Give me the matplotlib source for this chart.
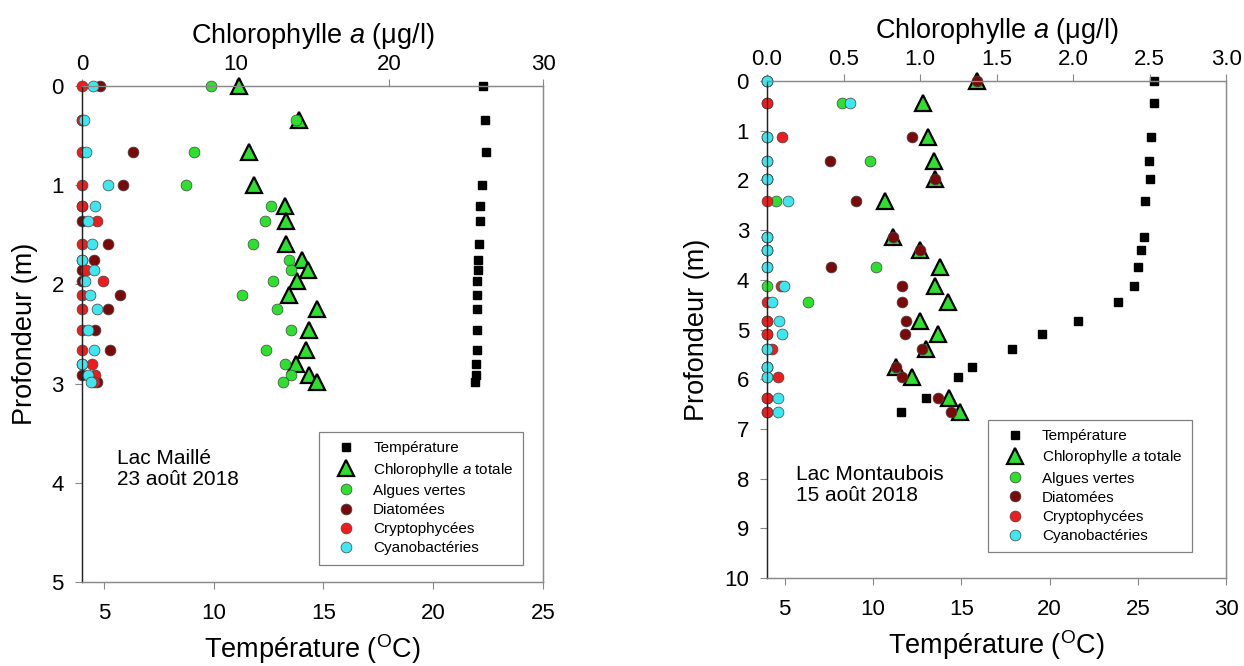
import matplotlib
matplotlib.use("Agg")
import matplotlib.pyplot as plt
from matplotlib.lines import Line2D

plt.rcParams['font.family'] = ['Liberation Sans', 'DejaVu Sans']
plt.rcParams['mathtext.fontset'] = 'custom'
plt.rcParams['mathtext.rm'] = 'Liberation Sans'
plt.rcParams['mathtext.it'] = 'Liberation Sans:italic'

# ---- Lac Maillé, 23 août 2018 ----
depth_m = [0.0, 0.34, 0.66, 1.0, 1.21, 1.36, 1.59, 1.75, 1.85, 1.97, 2.11, 2.25, 2.46, 2.66, 2.80, 2.91, 2.98]
temp_m = [22.25, 22.35, 22.4, 22.2, 22.15, 22.15, 22.1, 22.05, 22.05, 22.0, 22.0, 22.0, 22.0, 22.0, 21.95, 21.95, 21.9]
chl_tot_m = [10.2, 14.1, 10.9, 11.2, 13.2, 13.3, 13.3, 14.3, 14.7, 14.0, 13.5, 15.3, 14.8, 14.6, 13.9, 14.8, 15.3]
green_m = [8.4, 13.9, 7.3, 6.8, 12.3, 11.9, 11.1, 13.5, 13.6, 12.4, 10.4, 12.7, 13.6, 12.0, 13.2, 13.6, 13.1]
diatom_m = [1.2, 0.0, 3.3, 2.7, 0.0, 0.0, 1.7, 0.75, 0.0, 0.0, 2.5, 1.7, 0.85, 1.8, 0.0, 0.0, 0.95]
crypto_m = [0.0, 0.0, 0.0, 0.0, 0.0, 1.0, 0.0, 0.0, 0.25, 1.4, 0.0, 0.0, 0.0, 0.0, 0.65, 0.85, 0.8]
cyano_m = [0.7, 0.1, 0.25, 1.7, 0.85, 0.4, 0.65, 0.0, 0.8, 0.2, 0.5, 1.0, 0.4, 0.8, 0.0, 0.4, 0.6]

# ---- Lac Montaubois, 15 août 2018 ----
depth_b = [0.0, 0.45, 1.12, 1.6, 1.97, 2.42, 3.13, 3.4, 3.74, 4.12, 4.45, 4.82, 5.09, 5.4, 5.76, 5.95, 6.38, 6.66]
temp_b = [25.9, 25.9, 25.75, 25.65, 25.7, 25.4, 25.35, 25.2, 25.0, 24.8, 23.9, 21.6, 19.6, 17.9, 15.6, 14.8, 13.0, 11.6]
chl_tot_b = [1.37, 1.02, 1.05, 1.09, 1.10, 0.77, 0.82, 1.0, 1.13, 1.10, 1.18, 1.0, 1.12, 1.04, 0.84, 0.95, 1.19, 1.26]
green_b = [0.0, 0.49, 0.0, 0.67, 0.0, 0.06, 0.0, 0.0, 0.71, 0.0, 0.27, 0.0, 0.0, 0.0, 0.0, 0.0, 0.0, 0.0]
diatom_b = [1.37, 0.0, 0.95, 0.41, 1.10, 0.58, 0.82, 1.0, 0.42, 0.88, 0.88, 0.91, 0.9, 1.01, 0.84, 0.88, 1.12, 1.2]
crypto_b = [0.0, 0.0, 0.1, 0.0, 0.0, 0.0, 0.0, 0.0, 0.0, 0.09, 0.0, 0.0, 0.0, 0.03, 0.0, 0.07, 0.0, 0.0]
cyano_b = [0.0, 0.54, 0.0, 0.0, 0.0, 0.14, 0.0, 0.0, 0.0, 0.11, 0.03, 0.08, 0.1, 0.0, 0.0, 0.0, 0.07, 0.07]

labels = ['Température', r'Chlorophylle $\mathit{a}$ totale', 'Algues vertes',
          'Diatomées', 'Cryptophycées', 'Cyanobactéries']

GREEN = '#2ee02e'
DARKRED = '#7a0a0a'
RED = '#ee1c1c'
CYAN = '#3ee6ef'


def style(name):
    if name == 'temp':
        return dict(marker='s', ms=5.8, color='black', mec='black')
    if name == 'tot':
        return dict(marker='^', ms=12, color=GREEN, mec='black', mew=1.6)
    col = {'green': GREEN, 'diatom': DARKRED, 'crypto': RED, 'cyano': CYAN}[name]
    return dict(marker='o', ms=7.8, color=col, mec='#444444', mew=0.5)


def panel(rect, depth, temp, tot, green, diatom, crypto, cyano,
          tlim, tticks, clim, cticks, cfmt, dmax, leg_pos, lake, date, text_pos):
    ax = fig.add_axes(rect)
    ax2 = ax.twiny()
    ax.set_xlim(*tlim)
    ax2.set_xlim(*clim)
    ax.set_ylim(dmax, 0)

    ax.plot(temp, depth, ls='none', clip_on=False, **style('temp'))
    ax2.plot(tot, depth, ls='none', clip_on=False, **style('tot'))
    ax2.plot(green, depth, ls='none', clip_on=False, **style('green'))
    ax2.plot(diatom, depth, ls='none', clip_on=False, **style('diatom'))
    ax2.plot(crypto, depth, ls='none', clip_on=False, **style('crypto'))
    ax2.plot(cyano, depth, ls='none', clip_on=False, **style('cyano'))

    ax.set_xticks(tticks)
    ax.set_yticks(range(0, dmax + 1))
    ax2.set_xticks(cticks)
    ax2.set_xticklabels([cfmt.format(c) for c in cticks])
    for a in (ax, ax2):
        a.tick_params(labelsize=16, length=5, width=0.8, color='#888888', direction='out')
        for s in a.spines.values():
            s.set_color('#8a8a8a')
            s.set_linewidth(0.9)
        a.spines['left'].set_color('#222222')
    ax.tick_params(axis='x', pad=10)
    ax.tick_params(axis='y', pad=8)
    ax2.tick_params(axis='x', pad=3)

    ax.set_xlabel(r'Température ($\mathregular{^{O}}$C)', fontsize=19.5, labelpad=6)
    ax.set_ylabel('Profondeur (m)', fontsize=19.5, labelpad=10)
    ax2.set_xlabel(r'Chlorophylle $\mathit{a}$ (μg/l)', fontsize=19.5, labelpad=8)

    handles = [Line2D([], [], ls='none', **style(k))
               for k in ['temp', 'tot', 'green', 'diatom', 'crypto', 'cyano']]
    leg = ax2.legend(handles, labels, loc='upper left', bbox_to_anchor=leg_pos,
                     borderaxespad=0, fontsize=11, frameon=True, fancybox=False,
                     framealpha=1, edgecolor='#808080', handlelength=2.3,
                     handletextpad=0.65, labelspacing=0.34, borderpad=0.6)
    leg.get_frame().set_linewidth(0.9)

    ax2.text(text_pos[0], text_pos[1], lake + '\n' + date, transform=ax2.transAxes,
             fontsize=15, va='top', ha='left', linespacing=1.15)


fig = plt.figure(figsize=(12.44, 6.66), dpi=100)

panel([0.0659, 0.1261, 0.3706, 0.7447], depth_m, temp_m, chl_tot_m, green_m,
      diatom_m, crypto_m, cyano_m,
      (4, 25), [5, 10, 15, 20, 25], (0, 30), [0, 10, 20, 30], '{:g}', 5,
      (0.514, 0.302), 'Lac Maillé', '23 août 2018', (0.075, 0.268))

panel([0.6166, 0.1321, 0.3690, 0.7462], depth_b, temp_b, chl_tot_b, green_b,
      diatom_b, crypto_b, cyano_b,
      (4, 30), [5, 10, 15, 20, 25, 30], (0, 3), [0, 0.5, 1.0, 1.5, 2.0, 2.5, 3.0], '{:.1f}', 10,
      (0.481, 0.318), 'Lac Montaubois', '15 août 2018', (0.062, 0.228))

fig.savefig('out.png', dpi=100)
